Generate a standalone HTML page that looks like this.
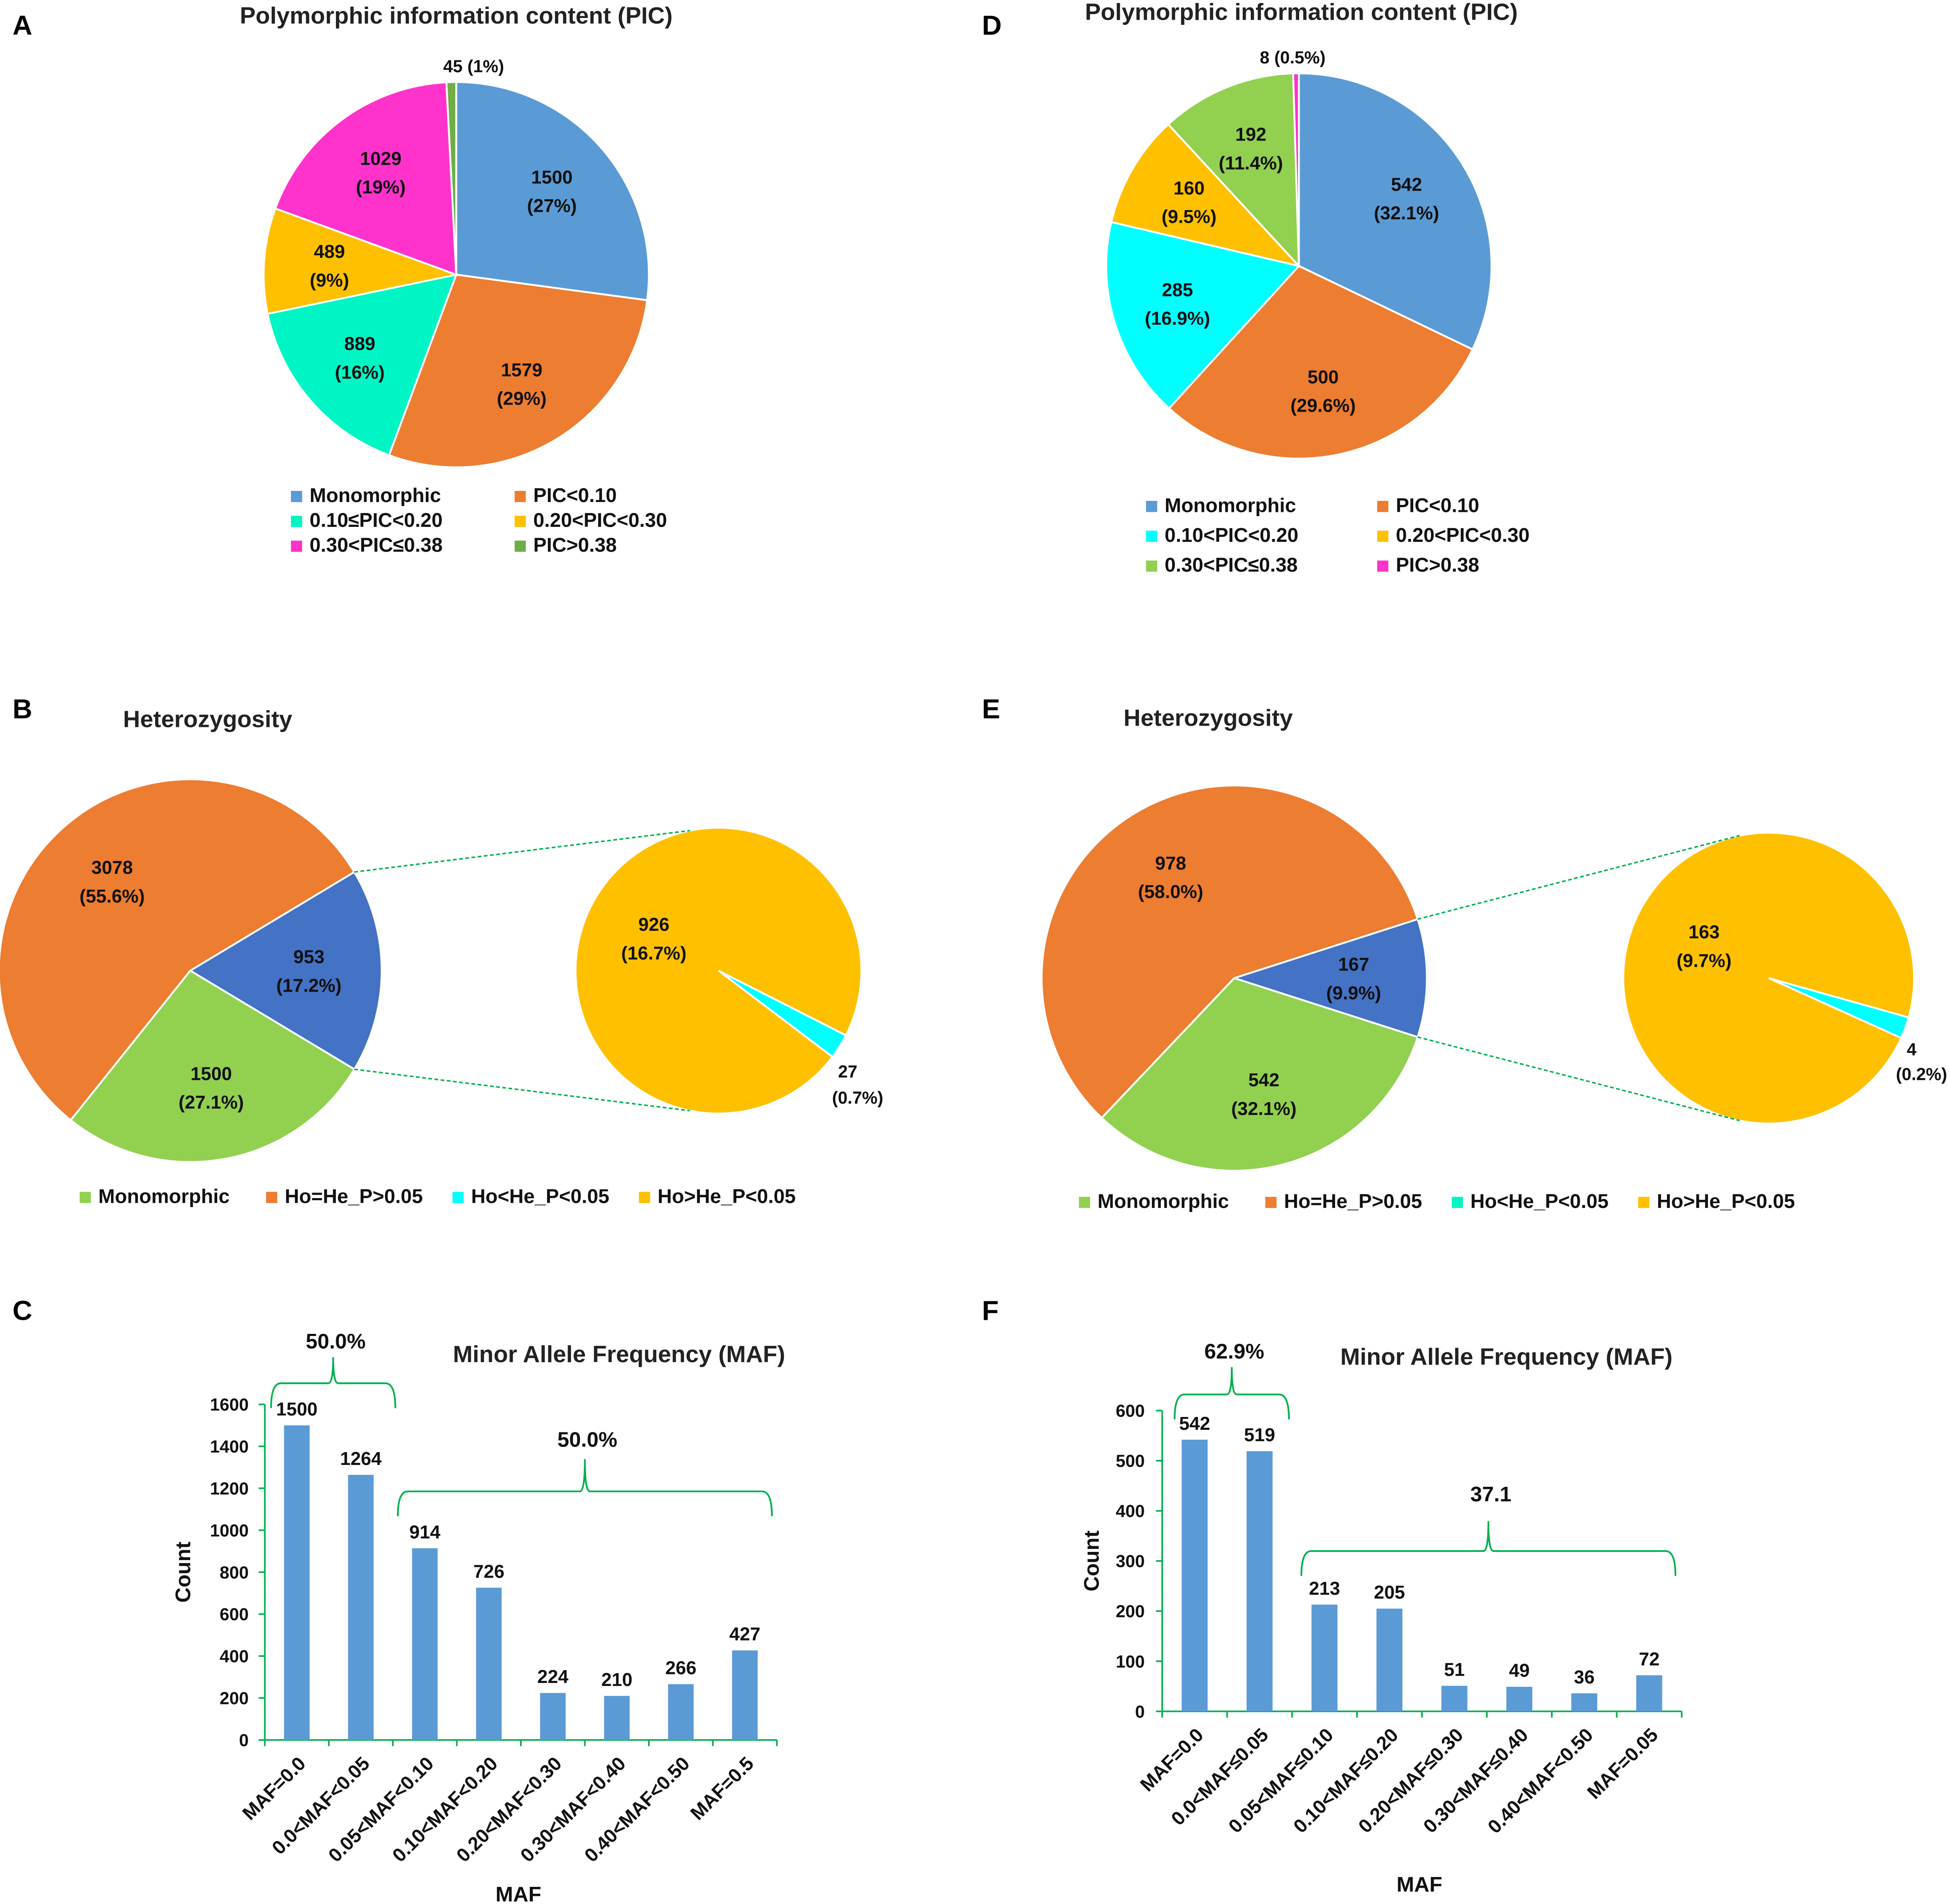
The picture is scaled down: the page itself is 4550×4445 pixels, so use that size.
<!DOCTYPE html>
<html><head><meta charset="utf-8"><style>
html,body{margin:0;padding:0;background:#fff;}
svg{display:block;font-family:"Liberation Sans",sans-serif;font-weight:bold;}
</style></head><body>
<svg id="fig" width="4550" height="4445" viewBox="0 0 1568 1532" xmlns="http://www.w3.org/2000/svg">
<rect width="1568" height="1532" fill="#fff"/>
<g font-size="22" fill="#000">
<text x="10" y="28">A</text>
<text x="790" y="28">D</text>
<text x="10" y="578">B</text>
<text x="790" y="578">E</text>
<text x="10" y="1062">C</text>
<text x="790" y="1062">F</text>
</g>
<g font-size="19" fill="#222" text-anchor="middle">
<text x="367" y="19">Polymorphic information content (PIC)</text>
<text x="1047" y="16">Polymorphic information content (PIC)</text>
<text x="167" y="585">Heterozygosity</text>
<text x="972" y="584">Heterozygosity</text>
<text x="498" y="1096">Minor Allele Frequency (MAF)</text>
<text x="1212" y="1098">Minor Allele Frequency (MAF)</text>
</g>
<g id="layer"></g>
</svg>
<script>
// Panel A
const picACats=["Monomorphic","PIC<0.10","0.10≤PIC<0.20","0.20<PIC<0.30","0.30<PIC≤0.38","PIC>0.38"];
const picAVals=[1500,1579,889,489,1029,45];
const picALabels=["1500|(27%)","1579|(29%)","889|(16%)","489|(9%)","1029|(19%)",""];
// Panel D
const picDCats=["Monomorphic","PIC<0.10","0.10<PIC<0.20","0.20<PIC<0.30","0.30<PIC≤0.38","PIC>0.38"];
const picDVals=[542,500,285,160,192,8];
const picDLabels=["542|(32.1%)","500|(29.6%)","285|(16.9%)","160|(9.5%)","192|(11.4%)",""];
// Panel B
const hetBVals=[953,1500,3078];
const hetBLabels=["953|(17.2%)","1500|(27.1%)","3078|(55.6%)"];
const hetBSub=[926,27];
// Panel E
const hetEVals=[167,542,978];
const hetELabels=["167|(9.9%)","542|(32.1%)","978|(58.0%)"];
const hetESub=[163,4];
// Panel C
const mafCCats=["MAF=0.0","0.0<MAF<0.05","0.05<MAF<0.10","0.10<MAF<0.20","0.20<MAF<0.30","0.30<MAF<0.40","0.40<MAF<0.50","MAF=0.5"];
const mafCVals=[1500,1264,914,726,224,210,266,427];
const mafCTicks=[0,200,400,600,800,1000,1200,1400,1600];
// Panel F
const mafFCats=["MAF=0.0","0.0<MAF≤0.05","0.05<MAF≤0.10","0.10<MAF≤0.20","0.20<MAF≤0.30","0.30<MAF≤0.40","0.40<MAF<0.50","MAF=0.05"];
const mafFVals=[542,519,213,205,51,49,36,72];
const mafFTicks=[0,100,200,300,400,500,600];

const NS="http://www.w3.org/2000/svg";
const layer=document.getElementById('layer');
function el(tag,attrs,parent){const e=document.createElementNS(NS,tag);for(const k in attrs)e.setAttribute(k,attrs[k]);(parent||layer).appendChild(e);return e;}
function txt(x,y,s,size,anchor,parent){const t=el('text',{x:x,y:y,'font-size':size,'text-anchor':anchor||'middle',fill:'#111'},parent);t.textContent=s;return t;}
function pie(name,cx,cy,r,vals,colors,labels,startDeg,lr){
  const g=el('g',{});
  
  
  const tot=vals.reduce((a,b)=>a+b,0);let a=startDeg*Math.PI/180;
  vals.forEach((v,i)=>{
    const da=v/tot*2*Math.PI;const a2=a+da;
    const x1=cx+r*Math.cos(a),y1=cy+r*Math.sin(a),x2=cx+r*Math.cos(a2),y2=cy+r*Math.sin(a2);
    const p=el('path',{d:`M${cx},${cy}L${x1},${y1}A${r},${r} 0 ${da>Math.PI?1:0} 1 ${x2},${y2}Z`,fill:colors[i],stroke:'#fff','stroke-width':1.5},g);
    
    
    if(labels&&labels[i]){const m=(a+a2)/2;const lx=cx+r*lr*Math.cos(m),ly=cy+r*lr*Math.sin(m);
      const parts=labels[i].split('|');
      const t1=txt(lx,ly-6,parts[0],15,'middle',g);
      const t2=txt(lx,ly+17,parts[1],15,'middle',g);}
    a=a2;});
  return g;
}
function legend(name,items,colors,x0,y0,cols,dx,dy){
  items.forEach((s,i)=>{const c=i%cols,r=Math.floor(i/cols);const x=x0+c*dx,y=y0+r*dy;
    const g=el('g',{});
    
    
    el('rect',{x:x,y:y-9,width:9,height:9,fill:colors[i]},g);
    txt(x+15,y,s,16,'start',g);});
}
const colA=["#5b9bd5","#ed7d31","#00f5c4","#ffc000","#ff33cc","#70ad47"];
const colD=["#5b9bd5","#ed7d31","#00ffff","#ffc000","#92d050","#ff33cc"];
pie('pie-pic-a',367,221,155,picAVals,colA,picALabels,-90,0.66);
txt(381,58,"45  (1%)",14);
legend('legend-a',picACats,colA,234,404,2,180,20);
pie('pie-pic-d',1045,214,155,picDVals,colD,picDLabels,-90,0.66);
txt(1040,51,"8 (0.5%)",14);
legend('legend-d',picDCats,colD,922,412,2,186,24);

const colB=["#4472c4","#92d050","#ed7d31"];
function het(name,cx,cy,r,vals,labels,sx,sy,sr,sub,subLabel1,sl){
  const tot=vals.reduce((a,b)=>a+b,0);const half=vals[0]/tot*180;
  pie(name,cx,cy,r,vals,colB,labels,-half,0.62);
  const st=sub.reduce((a,b)=>a+b,0);const cyanDeg=sub[1]/st*360;
  pie(name+'-breakout',sx,sy,sr,[sub[1],sub[0]],["#00ffff","#ffc000"],null,sl-cyanDeg/2,0.6);
  const hr=half*Math.PI/180;
  const l1=el('line',{x1:cx+r*Math.cos(-hr),y1:cy+r*Math.sin(-hr),x2:sx-sr*0.2,y2:sy-sr*0.98,stroke:'#00b050','stroke-width':1.2,'stroke-dasharray':'3,2'});
  
  
  const l2=el('line',{x1:cx+r*Math.cos(hr),y1:cy+r*Math.sin(hr),x2:sx-sr*0.2,y2:sy+sr*0.98,stroke:'#00b050','stroke-width':1.2,'stroke-dasharray':'3,2'});
  
  
  const p=subLabel1.split('|');txt(sx-52,sy-32,p[0],15);txt(sx-52,sy-9,p[1],15);
}
het('pie-het-b',153,781,154,hetBVals,hetBLabels,578,781,115,hetBSub,"926|(16.7%)",32);
txt(682,867,String(hetBSub[1]),14,'middle');txt(690,888,"(0.7%)",14,'middle');
het('pie-het-e',993,787,155,hetEVals,hetELabels,1423,787,117,hetESub,"163|(9.7%)",20);
txt(1538,849,String(hetESub[1]),14,'middle');txt(1546,869,"(0.2%)",14,'middle');
const hetCats=["Monomorphic","Ho=He_P>0.05","Ho<He_P<0.05","Ho>He_P<0.05"];
legend('legend-b',hetCats,["#92d050","#ed7d31","#00ffff","#ffc000"],64,968,4,150,0);
legend('legend-e',hetCats,["#92d050","#ed7d31","#00f5c4","#ffc000"],868,972,4,150,0);

function bar(name,vals,cats,ticks,x0,x1,y0,yTop,tickLx,yTitleX,xTitleY){
  const g=el('g',{});
  
  
  const max=ticks[ticks.length-1];const Y=v=>y0-(v/max)*(y0-yTop);
  const n=vals.length,w=(x1-x0)/n;
  el('line',{x1:x0,y1:y0,x2:x0,y2:yTop,stroke:'#00b050','stroke-width':1.3},g);
  el('line',{x1:x0,y1:y0,x2:x1,y2:y0,stroke:'#00b050','stroke-width':1.3},g);
  ticks.forEach(t=>{el('line',{x1:x0-5,y1:Y(t),x2:x0,y2:Y(t),stroke:'#00b050','stroke-width':1.3},g);
    const tl=txt(tickLx,Y(t)+5,String(t),14,'end',g);});
  for(let i=0;i<=n;i++)el('line',{x1:x0+i*w,y1:y0,x2:x0+i*w,y2:y0+5,stroke:'#00b050','stroke-width':1.3},g);
  vals.forEach((v,i)=>{const cx=x0+(i+0.5)*w;
    const r=el('rect',{x:cx-w*0.2,y:Y(v),width:w*0.4,height:y0-Y(v),fill:'#5b9bd5'},g);
    
    
    txt(cx,Y(v)-8,String(v),15,'middle',g);
    const t=txt(0,0,cats[i],15.5,'end',g);t.setAttribute('transform',`translate(${cx+8},${y0+20}) rotate(-45)`);
    });
  const yt=txt(0,0,"Count",17,'middle',g);yt.setAttribute('transform',`translate(${yTitleX},${(y0+yTop)/2}) rotate(-90)`);
  
  const xt=txt((x0+x1)/2-2,xTitleY,"MAF",17,'middle',g);
  return Y;
}
bar('bar-chart-c',mafCVals,mafCCats,mafCTicks,213,625,1400,1130,200,153,1530);
bar('bar-chart-f',mafFVals,mafFCats,mafFTicks,935,1353,1377,1135,921,884,1522);
function brace(name,xa,xb,yb,ypeak,label,ly){
  const m=(xa+xb)/2;
  const p=el('path',{d:`M${xa},${yb+20}Q${xa},${yb} ${xa+8},${yb}L${m-4},${yb}Q${m},${yb} ${m},${ypeak}Q${m},${yb} ${m+4},${yb}L${xb-8},${yb}Q${xb},${yb} ${xb},${yb+20}`,fill:'none',stroke:'#00b050','stroke-width':1.4});
  
  
  const t=txt(m+2,ly,label,17);
}
brace('brace-c-low',218,318,1113,1092,"50.0%",1085);
brace('brace-c-high',320,621,1200,1174,"50.0%",1164);
brace('brace-f-low',945,1037,1122,1100,"62.9%",1093);
brace('brace-f-high',1047,1348,1248,1224,"37.1",1208);
</script>
</body></html>
